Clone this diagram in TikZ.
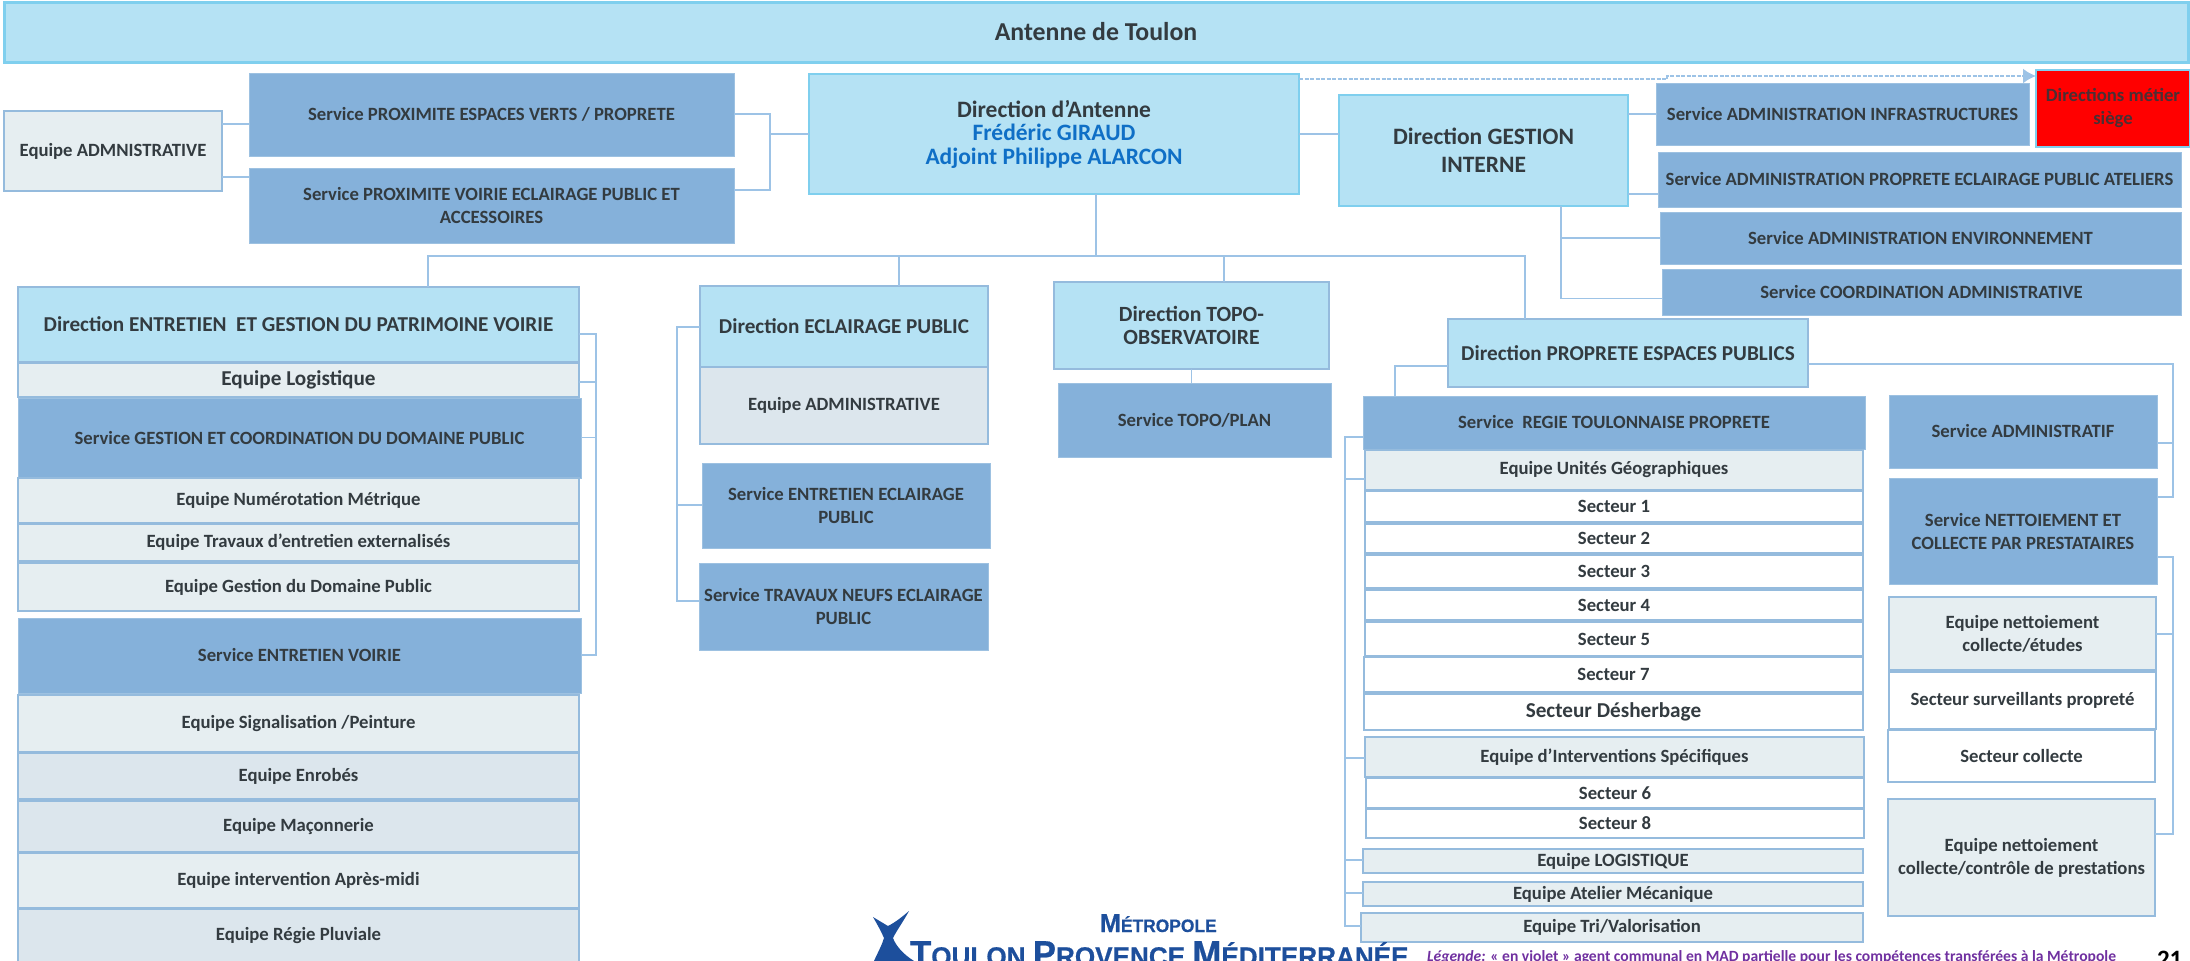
\documentclass[tikz,border=0pt]{standalone}
\usepackage{fontspec}
\usetikzlibrary{arrows.meta}
\setmainfont{Carlito}
\newfontfamily\logofont[FakeStretch=0.967,BoldFeatures={FakeBold=0.6}]{Liberation Sans}
\definecolor{skyfill}{HTML}{B5E2F4}
\definecolor{skyline}{HTML}{7FCFEE}
\definecolor{servfill}{HTML}{85B1DA}
\definecolor{teamfill}{HTML}{E6EEF1}
\definecolor{teamdark}{HTML}{DCE6ED}
\definecolor{teamline}{HTML}{95BBDD}
\definecolor{wirecol}{HTML}{9DC3E6}
\definecolor{inkcol}{HTML}{333B40}
\definecolor{siegeink}{HTML}{4A2F34}
\definecolor{namecol}{HTML}{0F6FC6}
\definecolor{logocol}{HTML}{1D4F9C}
\definecolor{legendcol}{HTML}{7030A0}
\begin{document}
\begin{tikzpicture}[x=1pt,y=-1pt]
\tikzset{ >=latex, inner sep=0pt, outer sep=0pt, text=inkcol, align=center, line width=1.5pt,
  txtA/.style={font=\fontsize{23.5}{28}\selectfont\bfseries},
  txtB/.style={font=\fontsize{21.2}{24}\selectfont\bfseries},
  txtC/.style={font=\fontsize{18.7}{23}\selectfont\bfseries},
  direction/.style={draw=skyline, fill=skyfill, line width=2.5pt, txtA},
  dirlow/.style={direction, draw=teamline, txtB},
  service/.style={fill=servfill, draw=servfill!80!white, line width=1pt, txtC},
  team/.style={draw=teamline, fill=teamfill, line width=2.5pt, txtC},
  teamb/.style={team, fill=teamdark},
  sector/.style={team, fill=white},
  wire/.style={draw=wirecol, line width=1.5pt},
}
\clip (0,0) rectangle (2190,961);
\useasboundingbox (0,0) rectangle (2190,961);

% haut
\node [direction, line width=3pt, minimum width=2184, minimum height=60, font=\fontsize{25.8}{28}\selectfont\bfseries] (antenne) at (1096,32) {Antenne de Toulon};
\node [direction, minimum width=490, minimum height=120, font=\fontsize{23.5}{23.5}\selectfont\bfseries] (dirAnt) at (1054,134) {Direction d'Antenne\\\textcolor{namecol}{Frédéric GIRAUD}\\\textcolor{namecol}{Adjoint Philippe ALARCON}};
\node [team, minimum width=218, minimum height=80, txtC] (eqAdm) at (113,151) {Equipe ADMNISTRATIVE};
\node [service, minimum width=485, minimum height=83] (svEv) at (491.5,114.5) {Service PROXIMITE ESPACES VERTS / PROPRETE};
\node [service, minimum width=485, minimum height=75] (svVoi) at (491.5,205.5) {Service PROXIMITE VOIRIE ECLAIRAGE PUBLIC ET\\ACCESSOIRES};

\node [direction, minimum width=289, minimum height=111] (dirGes) at (1483.5,150.5) {Direction GESTION\\INTERNE};
\node [service, minimum width=373, minimum height=62] (svInf) at (1842.5,114) {Service ADMINISTRATION INFRASTRUCTURES};
\node [draw=skyline, fill=red, text=siegeink, line width=2.5pt, minimum width=154, minimum height=77, txtC] (siege) at (2113,108.5) {Directions métier\\siège};
\node [service, minimum width=523, minimum height=55] (svPro) at (1919.5,179.5) {Service ADMINISTRATION PROPRETE ECLAIRAGE PUBLIC ATELIERS};
\node [service, minimum width=521, minimum height=52] (svEnv) at (1920.5,238) {Service ADMINISTRATION ENVIRONNEMENT};
\node [service, minimum width=519, minimum height=46] (svCoo) at (1921.5,292) {Service COORDINATION ADMINISTRATIVE};

% colonne voirie
\node [dirlow, minimum width=561, minimum height=75] (dirEnt) at (298.5,324.5) {Direction ENTRETIEN\ \ ET GESTION DU PATRIMOINE VOIRIE};
\node [team, minimum width=561, minimum height=34, txtB] (eqLog) at (298.5,380) {Equipe Logistique};
\node [service, minimum width=563, minimum height=80] (svGes) at (299.5,438) {Service GESTION ET COORDINATION DU DOMAINE PUBLIC};
\node [team, minimum width=561, minimum height=45] (eqNum) at (298.5,500.5) {Equipe Numérotation Métrique};
\node [team, minimum width=561, minimum height=37] (eqTra) at (298.5,542.5) {Equipe Travaux d’entretien externalisés};
\node [team, minimum width=561, minimum height=48] (eqDom) at (298.5,587) {Equipe Gestion du Domaine Public};
\node [service, minimum width=563, minimum height=75] (svVoirie) at (299.5,655.5) {Service ENTRETIEN VOIRIE};
\node [team, minimum width=561, minimum height=57] (eqSig) at (298.5,723.5) {Equipe Signalisation /Peinture};
\node [teamb, minimum width=561, minimum height=46] (eqEnr) at (298.5,776) {Equipe Enrobés};
\node [teamb, minimum width=561, minimum height=51] (eqMac) at (298.5,826.5) {Equipe Maçonnerie};
\node [team, minimum width=561, minimum height=55] (eqApr) at (298.5,880.5) {Equipe intervention Après-midi};
\node [teamb, minimum width=561, minimum height=54] (eqReg) at (298.5,936) {Equipe Régie Pluviale};

% colonne eclairage
\node [dirlow, minimum width=288, minimum height=81] (dirEcl) at (844,326.5) {Direction ECLAIRAGE PUBLIC};
\node [teamb, minimum width=288, minimum height=77] (eqEcl) at (844,405.5) {Equipe ADMINISTRATIVE};
\node [service, minimum width=288, minimum height=85] (svEcl) at (846,505.5) {Service ENTRETIEN ECLAIRAGE\\PUBLIC};
\node [service, minimum width=289, minimum height=87] (svNeu) at (843.5,606.5) {Service TRAVAUX NEUFS ECLAIRAGE\\PUBLIC};

% colonne topo
\node [dirlow, minimum width=275, minimum height=87, font=\fontsize{21.7}{23}\selectfont\bfseries] (dirTop) at (1191.5,325.5) {Direction TOPO-\\OBSERVATOIRE};
\node [service, minimum width=273, minimum height=74] (svTop) at (1194.5,420) {Service TOPO/PLAN};

% colonne proprete
\node [dirlow, minimum width=360, minimum height=68] (dirPro) at (1628,353) {Direction PROPRETE ESPACES PUBLICS};
\node [service, minimum width=502, minimum height=53] (svReg) at (1614,422.5) {Service\ \ REGIE TOULONNAISE PROPRETE};
\node [team, minimum width=498, minimum height=40] (eqUni) at (1614,470) {Equipe Unités Géographiques};
\node [sector, minimum width=498, minimum height=31] (sec1) at (1614,506.5) {Secteur 1};
\node [sector, minimum width=498, minimum height=29] (sec2) at (1614,538.5) {Secteur 2};
\node [sector, minimum width=498, minimum height=33] (sec3) at (1614,571.5) {Secteur 3};
\node [sector, minimum width=498, minimum height=30] (sec4) at (1614,605) {Secteur 4};
\node [sector, minimum width=498, minimum height=34] (sec5) at (1614,639) {Secteur 5};
\node [sector, minimum width=499, minimum height=35] (sec7) at (1613.5,674.5) {Secteur 7};
\node [sector, minimum width=499, minimum height=36, txtB] (secDes) at (1613.5,712) {Secteur Désherbage};
\node [team, minimum width=499, minimum height=40] (eqInt) at (1614.5,757) {Equipe d’Interventions Spécifiques};
\node [sector, minimum width=498, minimum height=30] (sec6) at (1615,793) {Secteur 6};
\node [sector, minimum width=498, minimum height=29] (sec8) at (1615,823.5) {Secteur 8};
\node [team, minimum width=500, minimum height=24] (eqLgt) at (1613,861) {Equipe LOGISTIQUE};
\node [team, minimum width=500, minimum height=24] (eqAte) at (1613,894) {Equipe Atelier Mécanique};
\node [team, minimum width=502, minimum height=29] (eqTri) at (1612,927.5) {Equipe Tri/Valorisation};

\node [service, minimum width=268, minimum height=73] (svAdm) at (2023,431.5) {Service ADMINISTRATIF};
\node [service, minimum width=268, minimum height=106] (svNet) at (2023,531) {Service NETTOIEMENT ET\\COLLECTE PAR PRESTATAIRES};
\node [team, minimum width=267, minimum height=73] (eqEtu) at (2022.5,633.5) {Equipe nettoiement\\collecte/études};
\node [sector, minimum width=267, minimum height=57] (secSur) at (2022.5,700.5) {Secteur surveillants propreté};
\node [sector, minimum width=267, minimum height=52] (secCol) at (2021.5,756) {Secteur collecte};
\node [team, minimum width=267, minimum height=117] (eqPre) at (2021.5,857.5) {Equipe nettoiement\\collecte/contrôle de prestations};

% bus
\coordinate (busA) at (770,114);
\coordinate (busB) at (770,190);
\coordinate (busC) at (770,134);
\coordinate (hubL) at (428,256);
\coordinate (hubM) at (1096,256);
\coordinate (hubE) at (899,256);
\coordinate (hubT) at (1224,256);
\coordinate (hubR) at (1525,256);
\coordinate (gesB) at (1561,298.5);
\coordinate (gesM) at (1561,238);
\coordinate (entT) at (596,334);
\coordinate (entL) at (596,382);
\coordinate (entG) at (596,437.5);
\coordinate (entV) at (596,655);
\coordinate (eclT) at (677,327);
\coordinate (eclM) at (677,505);
\coordinate (eclB) at (677,601);
\coordinate (proL) at (1395,366);
\coordinate (regT) at (1345,437);
\coordinate (regU) at (1345,479);
\coordinate (regI) at (1345,758);
\coordinate (regL) at (1345,860);
\coordinate (regA) at (1345,893);
\coordinate (regB) at (1345,926);
\coordinate (proR) at (2173,364);
\coordinate (admM) at (2173,443);
\coordinate (admB) at (2173,497);
\coordinate (netT) at (2173,557);
\coordinate (netM) at (2173,634);
\coordinate (netB) at (2173,834);

\draw [wire] (eqAdm.east |- 0,124) -- (svEv.west |- 0,124);
\draw [wire] (eqAdm.east |- 0,177) -- (svVoi.west |- 0,177);
\draw [wire] (svEv.east |- busA) -- (busA) -- (busB) -- (svVoi.east |- busB);
\draw [wire] (busC) -- (dirAnt.west |- busC);
\draw [wire] (dirAnt.east |- busC) -- (dirGes.west |- busC);
\draw [wire] (dirAnt.south -| hubM) -- (hubM);
\draw [wire] (dirEnt.north -| hubL) -- (hubL) -- (hubR) -- (dirPro.north -| hubR);
\draw [wire] (hubE) -- (dirEcl.north -| hubE);
\draw [wire] (hubT) -- (dirTop.north -| hubT);

\draw [wire] (dirGes.east |- svInf) -- (svInf.west);
\draw [wire] (dirGes.east |- 0,194) -- (svPro.west |- 0,194);
\draw [wire] (dirGes.south -| gesB) -- (gesB) -- (svCoo.west |- gesB);
\draw [wire] (gesM) -- (svEnv.west);

\draw [wire] (dirEnt.east |- entT) -- (entT) -- (entV) -- (svVoirie.east |- entV);
\draw [wire] (eqLog.east |- entL) -- (entL);
\draw [wire] (svGes.east |- entG) -- (entG);

\draw [wire] (dirEcl.west |- eclT) -- (eclT) -- (eclB) -- (svNeu.west |- eclB);
\draw [wire] (eclM) -- (svEcl.west |- eclM);

\draw [wire] (dirTop) -- (svTop.north -| dirTop);

\draw [wire] (dirPro.west |- proL) -- (proL) -- (svReg.north -| proL);
\draw [wire] (svReg.west |- regT) -- (regT) -- (regB) -- (eqTri.west |- regB);
\draw [wire] (regU) -- (eqUni.west |- regU);
\draw [wire] (regI) -- (eqInt.west |- regI);
\draw [wire] (regL) -- (eqLgt.west |- regL);
\draw [wire] (regA) -- (eqAte.west |- regA);

\draw [wire] (dirPro.east |- proR) -- (proR) -- (admB) -- (svNet.east |- admB);
\draw [wire] (admM) -- (svAdm.east |- admM);
\draw [wire] (svNet.east |- netT) -- (netT) -- (netB) -- (eqPre.east |- netB);
\draw [wire] (netM) -- (eqEtu.east |- netM);

% lien vers le siege
\coordinate (dashA) at (1667,79);
\coordinate (dashB) at (1667,76);
\draw [wire, line width=2pt, dash pattern=on 4pt off 1.5pt, -{Latex[length=13pt,width=15pt]}] (dirAnt.east |- dashA) -- (dashA) -- (dashB) -- (siege.west |- dashB);

% logo
\fill [logocol] (873,917) -- (888,926) .. controls (896,922) and (903,916) .. (909,911) .. controls (903,922) and (897,930) .. (893,938) .. controls (896,946) and (903,954) .. (914,961) -- (874,961) .. controls (878,952) and (882,945) .. (884,938) .. controls (881,931) and (877,924) .. (873,917) -- cycle;
\node [font=\logofont\fontsize{18}{18}\selectfont\bfseries, text=logocol, anchor=base west] (logoA) at (1100,932) {{\fontsize{26}{26}\selectfont M}ÉTROPOLE};
\node [font=\logofont\fontsize{27}{27}\selectfont\bfseries, text=logocol, anchor=base west] (logoB) at (910,966) {{\fontsize{36}{36}\selectfont T}OULON {\fontsize{36}{36}\selectfont P}ROVENCE {\fontsize{36}{36}\selectfont M}ÉDITERRANÉE};

\node [text=legendcol, anchor=base west, font=\fontsize{15.6}{15.6}\selectfont\bfseries] (legende) at (1427,961.5) {\textit{Légende:} « en violet » agent communal en MAD partielle pour les compétences transférées à la Métropole};
\node [text=black, anchor=base west, font=\fontsize{25}{25}\selectfont\bfseries] (page) at (2157,967) {21};
\end{tikzpicture}
\end{document}
